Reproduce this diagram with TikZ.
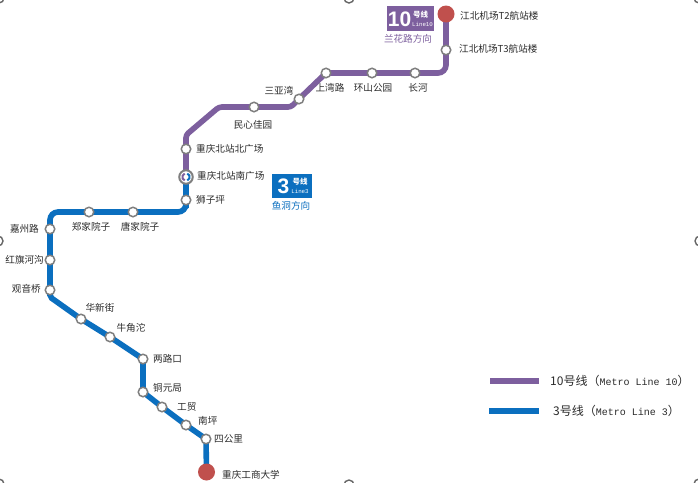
\documentclass[tikz,border=0pt]{standalone}
\usepackage{fontspec}
\setmainfont{Noto Sans CJK SC}
\newfontfamily\legendmono{Liberation Mono}
\newfontfamily\latinsans{Liberation Sans}
\usetikzlibrary{backgrounds}
\definecolor{lineten}{HTML}{7D5F9E}
\definecolor{linethree}{HTML}{0B6FBF}
\definecolor{terminus}{HTML}{C0504D}
\definecolor{ringgray}{HTML}{7F7F7F}
\definecolor{labeltext}{HTML}{2B2B2B}
\tikzset{
  x=1pt,y=-1pt,
  stn/.style={circle,draw=ringgray,fill=white,line width=1.5pt,minimum size=9.5pt,inner sep=0pt},
  endstn/.style={circle,fill=terminus,minimum size=17pt,inner sep=0pt},
  swap/.style={circle,draw=ringgray,fill=white,line width=2pt,minimum size=13.5pt,inner sep=0pt},
  lbl/.style={font=\fontsize{9.6}{10}\selectfont,text=labeltext,inner sep=0pt},
  tenline/.style={draw=lineten,line width=5.6pt,rounded corners=8pt},
  threeline/.style={draw=linethree,line width=5.6pt,rounded corners=8pt},
  sharpten/.style={draw=lineten,line width=5.6pt},
  sharpthree/.style={draw=linethree,line width=5.6pt},
  handle/.style={draw=ringgray!80!black,line width=1.4pt},
  badge/.style={inner sep=0pt,text=white},
  badgecjk/.style={badge,font=\fontsize{7.5}{8}\selectfont\bfseries,text height=6pt,text depth=0.5pt},
  badgeline/.style={badge,font=\legendmono\fontsize{5.8}{6}\selectfont,text height=3.5pt,text depth=0pt},
}
\begin{document}
\begin{tikzpicture}
\useasboundingbox (0,0) rectangle (698,482);
\clip (0,0) rectangle (698,482);
% resize handles at the edges
\foreach \hx/\hy in {-1/-2,349/-2,699/-2,-2/241,700/241,-1/484,349/485,699/484}
  \draw[handle] (\hx,\hy) circle[radius=5];
% stations, line 10
\node[endstn] (t2) at (446,14) {};
\node[stn] (t3) at (446,50) {};
\node[stn] (ch) at (415,73) {};
\node[stn] (hs) at (372,73) {};
\node[stn] (sw) at (326,73) {};
\node[stn] (sy) at (299,99) {};
\node[stn] (mx) at (254,107) {};
\node[stn] (bb) at (186,149) {};
\node[swap] (bn) at (186,177) {};
% stations, line 3
\node[stn] (sz) at (186,200) {};
\node[stn] (tj) at (133,212) {};
\node[stn] (zj) at (89,212) {};
\node[stn] (jz) at (50,229) {};
\node[stn] (hq) at (50,260) {};
\node[stn] (gy) at (50,290) {};
\node[stn] (hx) at (81,319) {};
\node[stn] (nj) at (110,337) {};
\node[stn] (ll) at (143,359) {};
\node[stn] (ty) at (143,392) {};
\node[stn] (gm) at (162,407) {};
\node[stn] (np) at (186,425) {};
\node[stn] (sg) at (206,439) {};
\node[endstn] (gs) at (206.5,472) {};
% bends
\coordinate (c10a) at (446,73);
\coordinate (c10b) at (291,107);
\coordinate (c10c) at (219,107);
\coordinate (c10d) at (186,135);
\coordinate (c3a) at (186,212);
\coordinate (c3b) at (50,212);
\coordinate (c3c) at (50,297);
\begin{scope}[on background layer]
  \fill[white] (0,0) rectangle (698,482);
  \draw[tenline] (t2.center) -- (t3.center) -- (c10a) -- (ch.center) -- (hs.center) -- (sw.center);
  \draw[tenline,rounded corners=3pt] (sw.center) -- (sy.center) -- (c10b) -- (mx.center) -- (c10c) -- (c10d) -- (bb.center) -- (bn.center);
  \draw[threeline] (bn.center) -- (sz.center) -- (c3a) -- (tj.center) -- (zj.center) -- (c3b) -- (jz.center) -- (hq.center) -- (gy.center);
  \draw[threeline,rounded corners=2pt] (gy.center) -- (c3c) -- (hx.center) -- (nj.center) -- (ll.center) -- (ty.center) -- (gm.center) -- (np.center) -- (sg.center) -- (gs.center);
\end{scope}
% interchange inner arcs
\draw[lineten,line width=2pt] ([shift={(110:3.7)}]bn.center) arc[start angle=110,end angle=250,radius=3.7];
\draw[linethree,line width=2pt] ([shift={(-70:3.7)}]bn.center) arc[start angle=-70,end angle=70,radius=3.7];
% labels
\node[lbl,anchor=west] (lt2) at (460,16) {江北机场T2航站楼};
\node[lbl,anchor=west] (lt3) at (459,49) {江北机场T3航站楼};
\node[lbl] (lch) at (418,88) {长河};
\node[lbl] (lhs) at (373,88) {环山公园};
\node[lbl] (lsw) at (330,88) {上湾路};
\node[lbl] (lsy) at (279,91) {三亚湾};
\node[lbl] (lmx) at (253,125) {民心佳园};
\node[lbl,anchor=west] (lbb) at (196,149) {重庆北站北广场};
\node[lbl,anchor=west] (lbn) at (197,176) {重庆北站南广场};
\node[lbl,anchor=west] (lsz) at (196,200) {狮子坪};
\node[lbl] (ltj) at (140,227) {唐家院子};
\node[lbl] (lzj) at (91,227) {郑家院子};
\node[lbl,anchor=east] (ljz) at (39,229) {嘉州路};
\node[lbl,anchor=east] (lhq) at (44,260) {红旗河沟};
\node[lbl,anchor=east] (lgy) at (41,289) {观音桥};
\node[lbl] (lhx) at (100,308) {华新街};
\node[lbl] (lnj) at (131,328) {牛角沱};
\node[lbl,anchor=west] (lll) at (153,359) {两路口};
\node[lbl,anchor=west] (lty) at (153,388) {铜元局};
\node[lbl,anchor=west] (lgm) at (177,407) {工贸};
\node[lbl,anchor=west] (lnp) at (198,421) {南坪};
\node[lbl,anchor=west] (lsg) at (214,439) {四公里};
\node[lbl,anchor=west] (lgs) at (222,475) {重庆工商大学};
% line badges
\fill[lineten] (387,6) rectangle (434,31);
\node[badge,font=\latinsans\bfseries\fontsize{21}{21}\selectfont] (b10) at (399.5,19) {10};
\node[badgecjk] (b10h) at (420.5,14.5) {号线};
\node[badgeline] (b10l) at (422.5,24.5) {Line10};
\node[lbl,text=lineten] (d10) at (408,39) {兰花路方向};
\fill[linethree] (272,173.5) rectangle (312,197.5);
\node[badge,font=\latinsans\bfseries\fontsize{21}{21}\selectfont] (b3) at (283.5,186) {3};
\node[badgecjk] (b3h) at (300,181.5) {号线};
\node[badgeline] (b3l) at (300,191.5) {Line3};
\node[lbl,text=linethree] (d3) at (291,206) {鱼洞方向};
% legend
\coordinate (k10a) at (490,381);
\coordinate (k10b) at (538.5,381);
\coordinate (k3a) at (489,411);
\coordinate (k3b) at (538.5,411);
\draw[sharpten] (k10a) -- (k10b);
\draw[sharpthree] (k3a) -- (k3b);
\node[lbl,anchor=west,font=\fontsize{12}{12}\selectfont] (k10) at (550,381) {10号线（{\legendmono\fontsize{10}{10}\selectfont Metro Line 10}）};
\node[lbl,anchor=west,font=\fontsize{12}{12}\selectfont] (k3) at (553,411) {3号线（{\legendmono\fontsize{10}{10}\selectfont Metro Line 3}）};
\end{tikzpicture}
\end{document}
